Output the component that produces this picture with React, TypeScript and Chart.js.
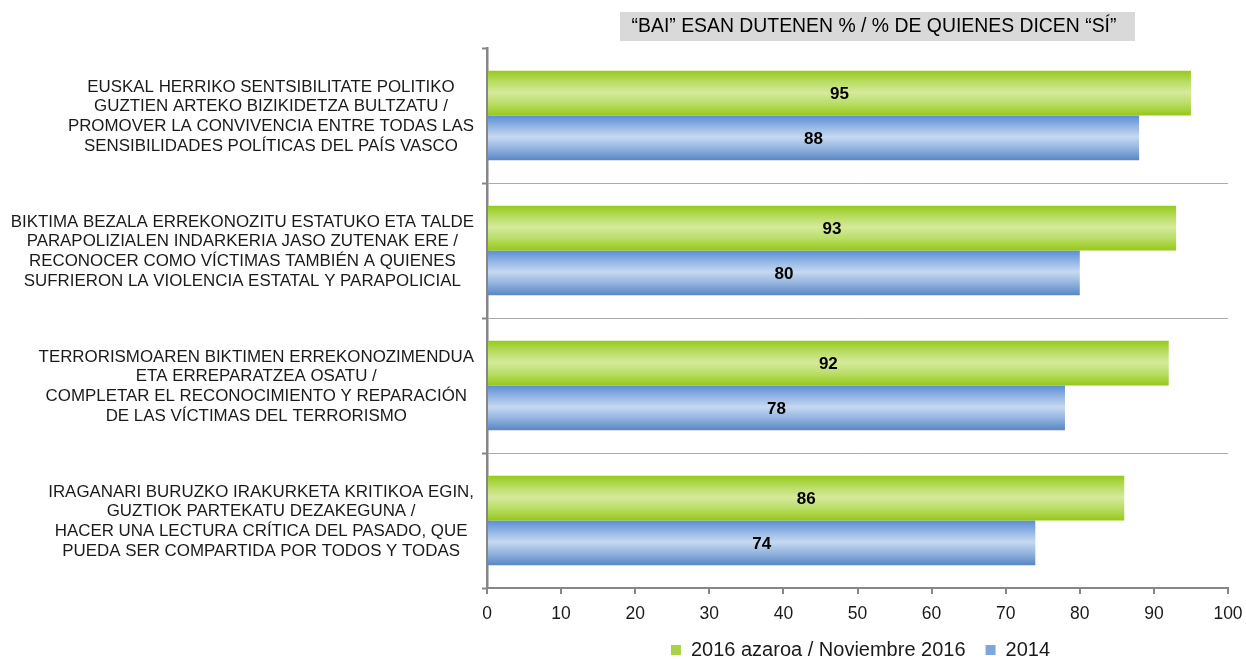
import React, { useEffect, useRef } from "react";
import { Chart, registerables } from "chart.js";

Chart.register(...registerables);

const titleText = "\u201CBAI\u201D ESAN DUTENEN % / % DE QUIENES DICEN \u201CS\u00CD\u201D";

const categories: string[][] = [
  [
    "EUSKAL HERRIKO SENTSIBILITATE POLITIKO",
    "GUZTIEN ARTEKO BIZIKIDETZA BULTZATU /",
    "PROMOVER LA CONVIVENCIA ENTRE TODAS LAS",
    "SENSIBILIDADES POL\u00CDTICAS DEL PA\u00CDS VASCO",
  ],
  [
    "BIKTIMA BEZALA ERREKONOZITU ESTATUKO ETA TALDE",
    "PARAPOLIZIALEN INDARKERIA JASO ZUTENAK ERE /",
    "RECONOCER COMO V\u00CDCTIMAS TAMBI\u00C9N A QUIENES",
    "SUFRIERON LA VIOLENCIA ESTATAL Y PARAPOLICIAL",
  ],
  [
    "TERRORISMOAREN BIKTIMEN ERREKONOZIMENDUA",
    "ETA ERREPARATZEA OSATU /",
    "COMPLETAR EL RECONOCIMIENTO Y REPARACI\u00D3N",
    "DE LAS V\u00CDCTIMAS DEL TERRORISMO",
  ],
  [
    "IRAGANARI BURUZKO IRAKURKETA KRITIKOA EGIN,",
    "GUZTIOK PARTEKATU DEZAKEGUNA /",
    "HACER UNA LECTURA CR\u00CDTICA DEL PASADO, QUE",
    "PUEDA SER COMPARTIDA POR TODOS Y TODAS",
  ],
];

const seriesNames = ["2016 azaroa / Noviembre 2016", "2014"];
const values2016 = [95, 93, 92, 86];
const values2014 = [88, 80, 78, 74];

const FONT = "'Liberation Sans', Arial, sans-serif";

const gradientStops: string[][] = [
  ["#97CA1A", "#B5DB5C", "#D5EA9C", "#B8DC62", "#96C818"],
  ["#5A8ED6", "#8DB1E3", "#C6D9F1", "#90B1DE", "#5986C2"],
];

const gradientPlugin = {
  id: "barGradients",
  beforeDatasetsDraw(chart: any) {
    const ctx = chart.ctx;
    chart.data.datasets.forEach((_ds: any, di: number) => {
      const meta = chart.getDatasetMeta(di);
      const stops = gradientStops[di];
      meta.data.forEach((el: any) => {
        const { y, height } = el.getProps(["y", "height"], true);
        const top = y - height / 2;
        const bottom = y + height / 2;
        const g = ctx.createLinearGradient(0, top, 0, bottom);
        g.addColorStop(0, stops[0]);
        g.addColorStop(0.22, stops[1]);
        g.addColorStop(0.48, stops[2]);
        g.addColorStop(0.75, stops[3]);
        g.addColorStop(1, stops[4]);
        el.options = Object.assign({}, el.options, { backgroundColor: g });
      });
    });
  },
};

const valueLabelPlugin = {
  id: "valueLabels",
  afterDatasetsDraw(chart: any) {
    const ctx = chart.ctx;
    ctx.save();
    ctx.font = `bold 17px ${FONT}`;
    ctx.fillStyle = "#000000";
    ctx.textAlign = "center";
    ctx.textBaseline = "middle";
    chart.data.datasets.forEach((ds: any, di: number) => {
      const meta = chart.getDatasetMeta(di);
      meta.data.forEach((el: any, i: number) => {
        const { x, y, base } = el.getProps(["x", "y", "base"], true);
        ctx.fillText(String(ds.data[i]), (x + base) / 2, y + 1);
      });
    });
    ctx.restore();
  },
};

const categoryLabelPlugin = {
  id: "categoryLabels",
  afterDraw(chart: any) {
    const ctx = chart.ctx;
    const yScale = chart.scales.y;
    const right = 474;
    const lineH = 19.7;
    ctx.save();
    ctx.font = `16.9px ${FONT}`;
    ctx.fillStyle = "#1a1a1a";
    ctx.textAlign = "center";
    ctx.textBaseline = "middle";
    (chart.data.labels as string[][]).forEach((lines, i) => {
      const cy = yScale.getPixelForValue(i);
      let maxW = 0;
      lines.forEach((l) => {
        maxW = Math.max(maxW, ctx.measureText(l).width);
      });
      const cx = right - maxW / 2;
      lines.forEach((l, j) => {
        ctx.fillText(l, cx, cy + 1 + (j - (lines.length - 1) / 2) * lineH);
      });
    });
    ctx.restore();
  },
};

const titlePlugin = {
  id: "boxTitle",
  afterDraw(chart: any) {
    const ctx = chart.ctx;
    ctx.save();
    ctx.fillStyle = "#D9D9D9";
    ctx.fillRect(620, 12, 515, 29);
    ctx.font = `19.4px ${FONT}`;
    ctx.fillStyle = "#000000";
    ctx.textAlign = "center";
    ctx.textBaseline = "middle";
    ctx.fillText(titleText, 874, 27);
    ctx.restore();
  },
};

const legendShiftPlugin = {
  id: "legendShift",
  afterLayout(chart: any) {
    const lg = chart.legend;
    if (lg) {
      lg.left += 3;
      lg.right += 3;
    }
  },
};

export default function App() {
  const canvasRef = useRef<HTMLCanvasElement | null>(null);

  useEffect(() => {
    if (!canvasRef.current) return;
    const chart = new Chart(canvasRef.current, {
      type: "bar",
      data: {
        labels: categories,
        datasets: [
          {
            label: seriesNames[0],
            data: values2016,
            backgroundColor: "#A9D345",
            borderWidth: 0,
            categoryPercentage: 0.662,
            barPercentage: 1,
          },
          {
            label: seriesNames[1],
            data: values2014,
            backgroundColor: "#7FA6DC",
            borderWidth: 0,
            categoryPercentage: 0.662,
            barPercentage: 1,
          },
        ],
      },
      options: {
        indexAxis: "y",
        responsive: false,
        animation: false,
        devicePixelRatio: 1,
        layout: { autoPadding: false, padding: { top: 48, right: 18, left: 0, bottom: 0 } },
        scales: {
          x: {
            min: 0,
            max: 100,
            ticks: {
              stepSize: 10,
              color: "#1a1a1a",
              font: { family: FONT, size: 17.5 },
              padding: 10,
            },
            grid: {
              drawOnChartArea: false,
              drawTicks: true,
              tickLength: 6,
              tickColor: "#868686",
              tickWidth: 2,
              lineWidth: 2,
              color: "#868686",
            },
            border: { display: true, color: "#868686", width: 2 },
            afterFit: (scale: any) => {
              scale.height = 32;
              scale.paddingLeft = 0;
              scale.paddingRight = 0;
            },
          },
          y: {
            ticks: { display: false },
            grid: {
              color: (c: any) => (c.index === 0 ? "rgba(0,0,0,0)" : "#ABABAB"),
              lineWidth: 1,
              drawTicks: true,
              tickLength: 5,
              tickColor: "#868686",
              tickWidth: 2,
            },
            border: { display: true, color: "#868686", width: 2.5 },
            afterFit: (scale: any) => {
              scale.width = 487;
            },
          },
        },
        plugins: {
          title: { display: false },
          tooltip: { enabled: false },
          legend: {
            display: true,
            position: "bottom",
            fullSize: false,
            maxHeight: 39,
            labels: {
              boxWidth: 10,
              boxHeight: 10,
              padding: 20,
              color: "#1a1a1a",
              font: { family: FONT, size: 20 },
            },
          },
        },
      },
      plugins: [gradientPlugin, valueLabelPlugin, categoryLabelPlugin, titlePlugin, legendShiftPlugin],
    } as any);
    return () => chart.destroy();
  }, []);

  return (
    <div style={{ position: "absolute", left: 0, top: 0, width: 1246, height: 659, background: "#ffffff" }}>
      <canvas ref={canvasRef} width={1246} height={659} style={{ display: "block" }} />
    </div>
  );
}
